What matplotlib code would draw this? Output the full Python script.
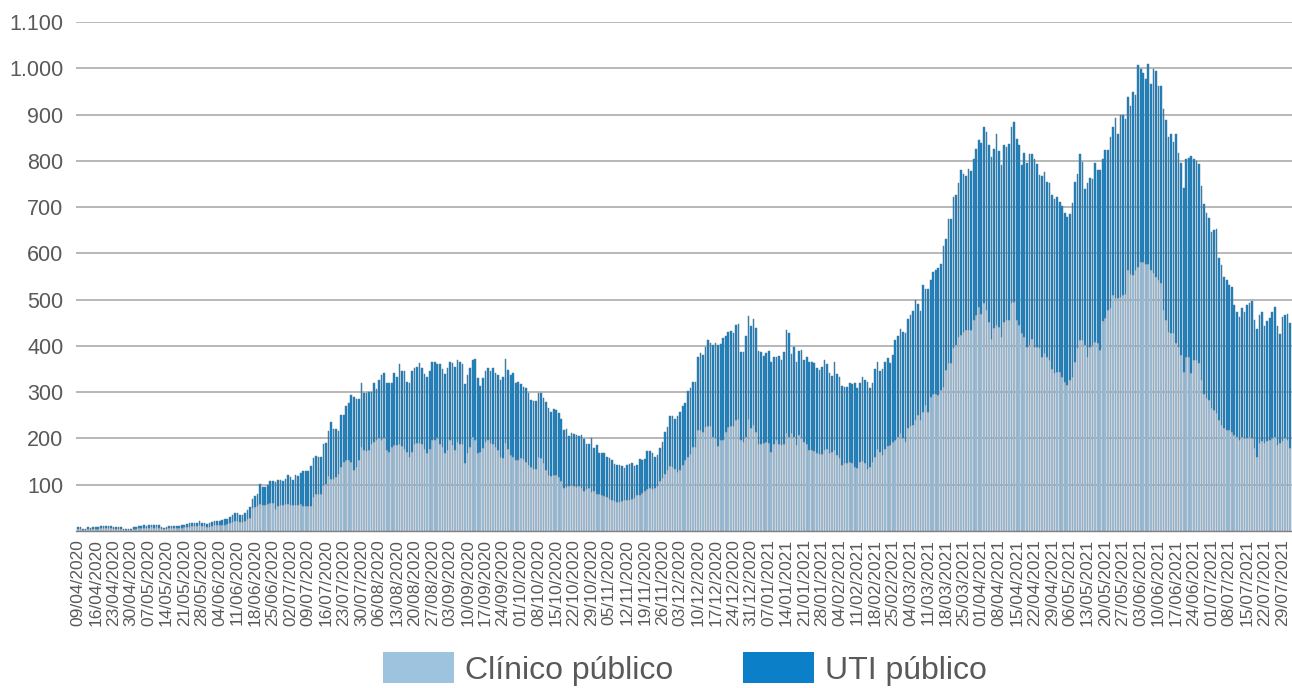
import numpy as np
import pandas as pd
import matplotlib
matplotlib.use("Agg")
import matplotlib.pyplot as plt
from matplotlib.patches import Patch

plt.rcParams['font.family'] = ['Liberation Sans', 'DejaVu Sans']

# leitos ocupados por dia (total = clinico + UTI), a partir de 09/04/2020
inicio = '2020-04-09'

total = [
    8, 8, 4, 4, 8, 6, 8, 8, 8, 11, 11, 11, 11, 11, 8, 8, 8, 8, 4, 4,
    4, 4, 8, 8, 11, 11, 13, 11, 13, 13, 13, 13, 13, 9, 7, 9, 11, 11, 11, 11,
    11, 13, 13, 15, 17, 18, 18, 18, 22, 18, 18, 15, 17, 20, 22, 22, 22, 24, 25, 27,
    31, 34, 38, 39, 34, 34, 39, 45, 51, 69, 76, 81, 102, 95, 96, 100, 108, 108,
    105, 111, 111, 108, 113, 122, 117, 111, 122, 119, 126, 129, 129, 129, 141, 157, 163, 159, 159, 187,
    191, 217, 236, 220, 220, 217, 250, 250, 270, 276, 294, 290, 286, 286, 320, 299, 299, 301, 301, 320,
    307, 327, 338, 342, 320, 320, 320, 342, 333, 360, 345, 345, 322, 320, 345, 352, 355, 364, 353, 340,
    333, 345, 366, 366, 360, 360, 350, 340, 352, 366, 362, 355, 369, 366, 360, 318, 338, 352, 369, 371,
    331, 314, 331, 345, 353, 345, 353, 342, 337, 327, 333, 371, 349, 337, 342, 319, 322, 317, 312, 308,
    299, 284, 281, 281, 299, 299, 288, 278, 265, 258, 263, 261, 256, 241, 218, 221, 205, 211, 209, 208,
    205, 208, 198, 188, 189, 202, 180, 186, 169, 169, 168, 160, 157, 153, 145, 143, 143, 140, 137, 142,
    145, 148, 141, 142, 156, 153, 156, 172, 172, 168, 160, 164, 180, 193, 214, 225, 248, 248, 241, 248,
    258, 270, 276, 303,
    308, 321, 321, 377, 385, 381, 398, 412, 407, 401, 407, 401, 404, 418, 421, 430, 433,
    427, 446, 448, 387, 387, 422, 464, 443, 459, 438, 390, 387, 379, 385, 388, 366, 375, 375, 379, 369,
    387, 434, 427, 382, 398, 366, 389, 392, 370, 375, 366, 366, 364, 353, 348, 355, 369, 360, 342, 336,
    366, 340, 332, 313, 312, 312, 320, 317, 320, 308, 320, 333, 327, 322, 308, 319, 351, 366, 346, 351,
    366, 373, 364,
    380, 413, 421, 436, 431, 427, 459, 467, 476, 500, 491, 475, 531, 522, 524, 542,
    560, 564, 569, 578, 616, 632, 674, 675, 721, 726, 751, 781, 771, 767, 783, 778, 805, 826, 844, 839,
    873, 862, 834, 809, 826, 857, 821, 790, 834, 830, 836, 873, 884, 848, 834, 790, 817, 795, 814, 815,
    803, 794, 769, 767, 776, 754, 751, 726, 718, 722, 711, 702, 687, 679, 684, 708, 754, 772, 815, 798,
    740, 752, 763, 761,
    796, 780, 780, 803, 824, 824, 852, 873, 893, 857, 899, 899, 891, 937, 919, 949,
    943, 1007, 998, 989, 976, 1010, 967, 998, 995, 961, 961, 913, 888, 852, 857, 841, 857, 816, 795, 742,
    803, 807, 810, 803, 799, 793, 745, 706, 688, 677, 646, 650, 652, 589, 574, 549, 542, 531, 528, 489,
    473, 463, 481, 473, 489, 492, 498, 457, 436, 466, 473, 443, 454, 461, 474, 485, 443, 426, 463, 466,
    468, 449,
]

clinico = [
    4, 5, 2, 2, 5, 3, 4, 5, 5, 6, 6, 7, 6, 6, 5, 4, 5, 4, 2, 2,
    2, 2, 5, 4, 6, 7, 7, 6, 7, 8, 7, 8, 7, 5, 4, 5, 6, 6, 7, 6,
    6, 7, 8, 8, 9, 10, 10, 11, 12, 10, 10, 8, 9, 11, 12, 12, 13, 13, 14, 15,
    17, 19, 21, 22, 20, 19, 22, 25, 28, 50, 52, 55, 58, 56, 56, 58, 60, 60,
    47, 55, 57, 56, 58, 58, 57, 57, 57, 57, 59, 55, 55, 55, 55, 74, 81, 81, 81, 99,
    102, 119, 112, 112, 117, 124, 139, 150, 153, 153, 150, 132, 139, 153, 182, 176, 173, 176, 189, 193,
    196, 200, 196, 200, 175, 171, 182, 185, 185, 189, 183, 178, 171, 160, 171, 189, 191, 190, 187, 178,
    168, 178, 196, 196, 200, 189, 182, 168, 176, 196, 185, 176, 193, 189, 189, 148, 168, 182, 203, 196,
    168, 171, 180, 193, 196, 190, 189, 182, 175, 160, 157, 190, 178, 164, 160, 153, 153, 157, 155, 150,
    143, 139, 135, 135, 160, 157, 146, 132, 121, 118, 121, 121, 116, 107, 94, 96, 97, 99, 97, 96,
    97, 92, 87, 90, 92, 85, 87, 81, 80, 78, 75, 74, 70, 68, 65, 63, 63, 65, 67, 68,
    68, 70, 72, 78, 78, 83, 87, 90, 92, 90, 94, 97, 107, 114, 124, 132, 141, 139, 134, 128,
    132, 143, 153, 160,
    166, 182, 182, 218, 218, 214, 225, 227, 227, 204, 200, 183, 196, 197, 214, 225, 227,
    227, 240, 241, 197, 192, 204, 241, 222, 229, 214, 189, 188, 190, 192, 190, 171, 189, 196, 189, 185,
    189, 211, 204, 211, 204, 185, 207, 202, 192, 189, 175, 175, 173, 168, 166, 166, 175, 178, 169, 171,
    175, 164, 157, 143, 146, 146, 150, 146, 139, 136, 150, 152, 148, 134, 139, 150, 161, 178, 171, 164,
    177, 184, 186,
    193, 197, 204, 211, 200, 193, 222, 226, 229, 240, 250, 240, 258, 272, 258, 290,
    297, 297, 294, 304, 312, 348, 362, 362, 395, 402, 420, 423, 431, 434, 434, 434, 456, 467, 485, 470,
    492, 477, 452, 416, 438, 445, 441, 420, 452, 456, 456, 492, 495, 456, 445, 427, 420, 398, 402, 416,
    398, 398, 395, 377, 384, 377, 370, 351, 341, 344, 344, 333, 322, 315, 326, 333, 366, 395, 413, 413,
    402, 377, 398, 402,
    409, 406, 392, 453, 460, 478, 481, 510, 503, 503, 506, 510, 513, 564, 555, 553,
    564, 571, 582, 582, 578, 578, 564, 557, 549, 542, 535, 478, 456, 431, 427, 427, 406, 398, 380, 344,
    377, 377, 341, 370, 370, 362, 326, 297, 287, 283, 265, 261, 254, 240, 229, 222, 218, 218, 215, 207,
    204, 197, 204, 200, 200, 204, 200, 179, 161, 190, 194, 190, 194, 197, 200, 204, 186, 190, 194, 200,
    197, 179,
]

n = min(len(total), len(clinico))
total = np.array(total[:n])
clinico = np.array(clinico[:n])
uti = total - clinico

datas = pd.date_range(inicio, periods=n, freq='D')
x = np.arange(n)

cor_clinico = '#9DC3DF'
cor_uti = '#0B80C8'
cinza = '#595959'

fig = plt.figure(figsize=(12.92, 6.88), dpi=100)
ax = fig.add_axes([76 / 1292, 1 - 531 / 688, 1 - 76 / 1292, (531 - 22) / 688])

ax.bar(x, clinico, width=0.65, color=cor_clinico, edgecolor='#8c9aa6', linewidth=0.35, zorder=2)
ax.bar(x, uti, bottom=clinico, width=0.65, color=cor_uti, edgecolor='#5d7f96', linewidth=0.35, zorder=2)

ax.set_ylim(0, 1100)
ax.set_xlim(-0.8, n - 0.2)
yt = np.arange(100, 1101, 100)
ax.set_yticks(yt)
ax.set_yticklabels([f'{v:,}'.replace(',', '.') for v in yt], fontsize=15.5, color=cinza)
ax.yaxis.grid(True, color='#ABABAB', linewidth=1.2, zorder=0)
ax.set_axisbelow(True)

ticks = x[::7]
ax.set_xticks(ticks)
ax.set_xticklabels([d.strftime('%d/%m/%Y') for d in datas[::7]], rotation=90,
                   fontsize=12.5, color=cinza)
ax.tick_params(axis='both', length=0)
ax.tick_params(axis='y', pad=9)
ax.tick_params(axis='x', pad=6)

for s in ['top', 'right', 'left']:
    ax.spines[s].set_visible(False)
ax.spines['bottom'].set_color('#7f7f7f')
ax.spines['bottom'].set_linewidth(1.0)

handles = [Patch(facecolor=cor_clinico, label='Clínico público'),
           Patch(facecolor=cor_uti, label='UTI público')]
fig.legend(handles=handles, loc='center', bbox_to_anchor=(685 / 1292, 1 - 669 / 688), ncol=2,
           frameon=False, fontsize=23, labelcolor=cinza, handlelength=2.2, handleheight=1.1,
           handletextpad=0.35, columnspacing=2.2)

fig.savefig('out.png', dpi=100)
